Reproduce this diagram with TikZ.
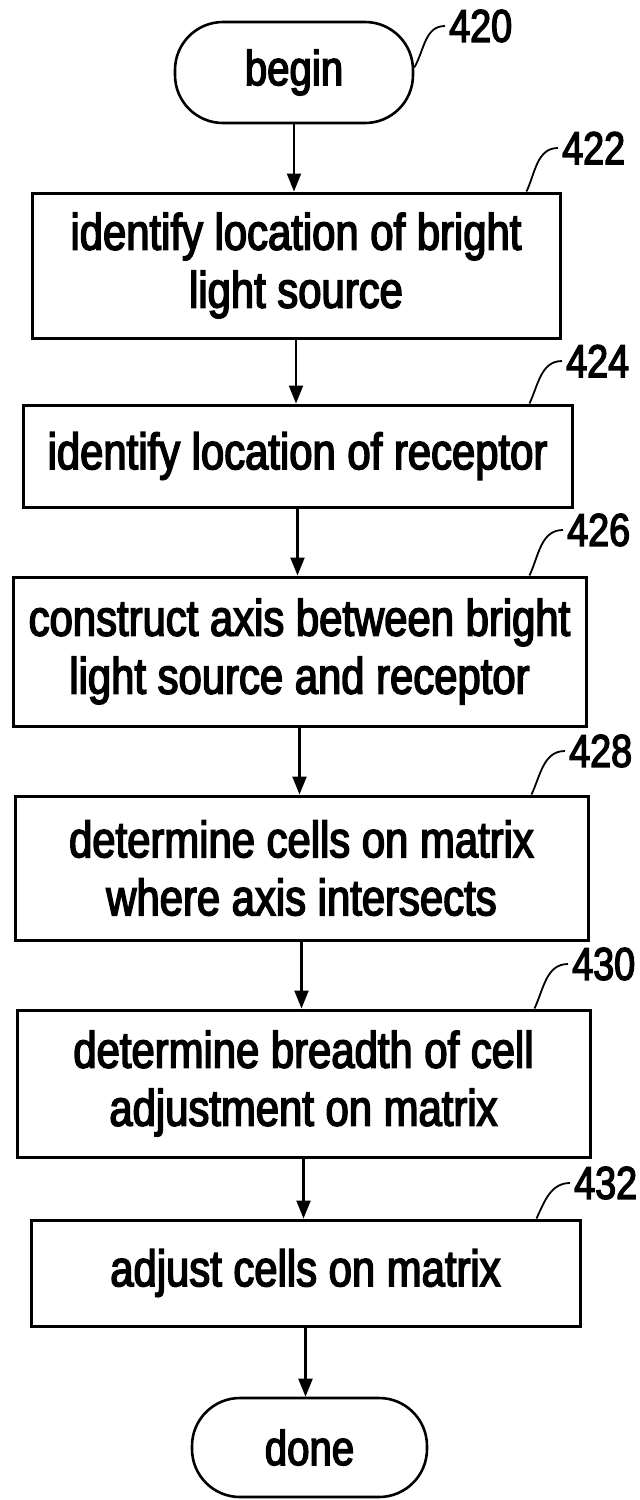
\documentclass[tikz,border=0pt]{standalone}
\usepackage{fontspec}
\setmainfont{Liberation Sans}[FakeStretch=0.82,FakeBold=3]
\usetikzlibrary{arrows.meta,calc}
\tikzset{
  proc/.style={draw, line width=3pt, inner sep=0pt, align=center, font=\fontsize{51}{58}\selectfont},
  term/.style={draw, line width=2.6pt, rounded corners=48pt, inner sep=0pt, font=\fontsize{49}{56}\selectfont},
  flow/.style={line width=2.2pt, -{Triangle[length=18pt,width=14pt]}},
  refnum/.style={inner sep=0pt, anchor=west, font=\fontsize{46}{50}\selectfont},
  leader/.style={line width=1.8pt},
}
\begin{document}
\begin{tikzpicture}[x=1pt,y=-1pt]
\fill[white] (0,0) rectangle (640,1500);
\useasboundingbox (0,0) rectangle (640,1500);

\node[term, minimum width=238pt, minimum height=101pt] (begin) at (294,72.5) {begin};
\node[proc, minimum width=528pt, minimum height=145pt] (b422) at (296,265.5) {identify location of bright\\light source};
\node[proc, minimum width=549pt, minimum height=102pt] (b424) at (297.5,456) {identify location of receptor};
\node[proc, minimum width=573pt, minimum height=149pt] (b426) at (299.5,651.5) {construct axis between bright\\light source and receptor};
\node[proc, minimum width=573pt, minimum height=144pt] (b428) at (301.5,868) {determine cells on matrix\\where axis intersects};
\node[proc, minimum width=573pt, minimum height=147pt] (b430) at (303.5,1083.5) {determine breadth of cell\\adjustment on matrix};
\node[proc, minimum width=549pt, minimum height=106pt] (b432) at (305.5,1273) {adjust cells on matrix};
\node[term, minimum width=235pt, minimum height=99pt] (done) at (309.5,1447.5) {done};

\draw[flow] (begin.south) -- (begin.south |- b422.north);
\draw[flow] (b422.south) -- (b422.south |- b424.north);
\draw[flow] (b424.south) -- (b424.south |- b426.north);
\draw[flow] (b426.south) -- (b426.south |- b428.north);
\draw[flow] (b428.south) -- (b428.south |- b430.north);
\draw[flow] (b430.south) -- (b430.south |- b432.north);
\draw[flow] (b432.south) -- (b432.south |- done.north);

\node[refnum] (l420) at (449,26) {420};
\node[refnum] (l422) at (562,148) {422};
\node[refnum] (l424) at (566,361) {424};
\node[refnum] (l426) at (567,530) {426};
\node[refnum] (l428) at (569,751) {428};
\node[refnum] (l430) at (572,964) {430};
\node[refnum] (l432) at (574,1183) {432};

\draw[leader] ($(begin.east)+(0,-5)$) to[out=60,in=180] ($(l420.west)+(-4,0)$);
\draw[leader] ($(b422.north east)+(-35,0)$) to[out=65,in=180] ($(l422.west)+(-4,0)$);
\draw[leader] ($(b424.north east)+(-44,0)$) to[out=65,in=180] ($(l424.west)+(-4,0)$);
\draw[leader] ($(b426.north east)+(-58,0)$) to[out=65,in=180] ($(l426.west)+(-4,0)$);
\draw[leader] ($(b428.north east)+(-58,0)$) to[out=65,in=180] ($(l428.west)+(-4,0)$);
\draw[leader] ($(b430.north east)+(-57,0)$) to[out=65,in=180] ($(l430.west)+(-4,0)$);
\draw[leader] ($(b432.north east)+(-45,0)$) to[out=65,in=180] ($(l432.west)+(-4,0)$);
\end{tikzpicture}
\end{document}
